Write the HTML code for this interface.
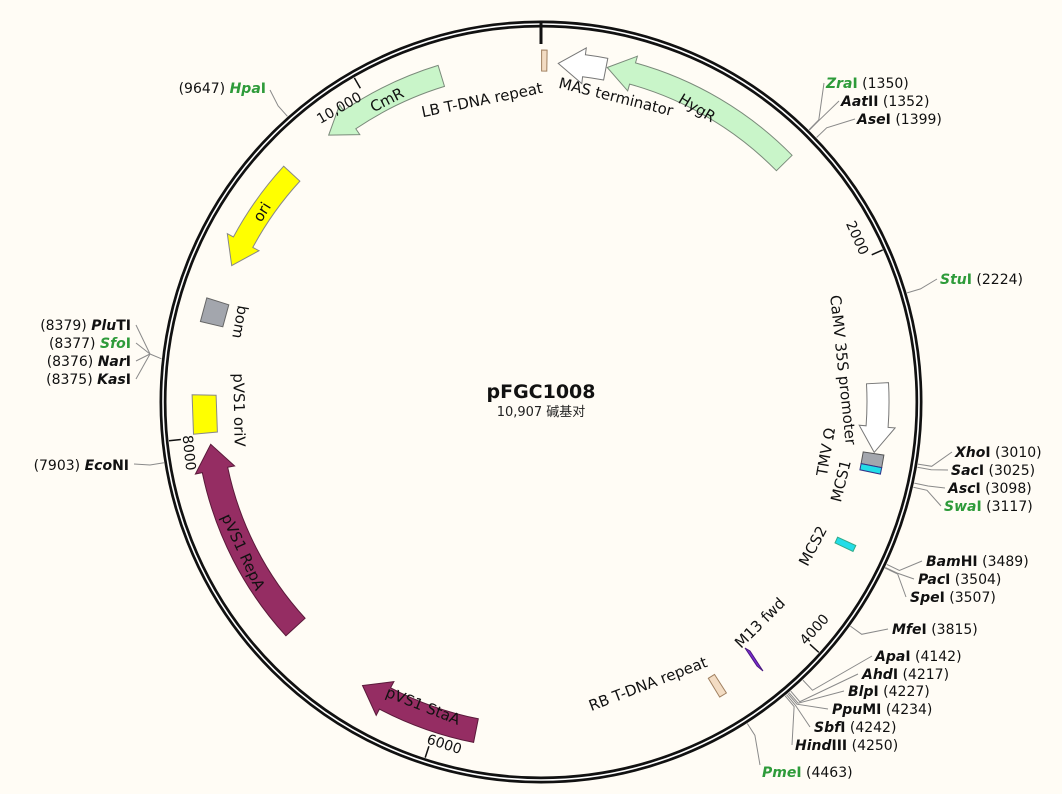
<!DOCTYPE html>
<html><head><meta charset="utf-8"><style>
html,body{margin:0;padding:0;background:#fffcf5;}
svg{display:block;font-family:"DejaVu Sans","Liberation Sans",sans-serif;}
.e{font-size:14px;fill:#111;}
.f{font-size:15px;fill:#111;}
</style></head><body>
<svg id="s" width="1062" height="794" viewBox="0 0 1062 794" xmlns="http://www.w3.org/2000/svg">
<rect width="1062" height="794" fill="#fffcf5"/>
<g id="lines" stroke="#8a8a8a" stroke-width="1" fill="none"></g>
<circle cx="541" cy="402" r="378" fill="none" stroke="#111" stroke-width="7"/>
<circle cx="541" cy="402" r="378" fill="none" stroke="#fff" stroke-width="1.6"/>
<line x1="541" y1="22" x2="541" y2="44" stroke="#111" stroke-width="3"/>
<g id="feat"></g>
<g id="ticks"></g>
<text x="541" y="398" text-anchor="middle" font-size="19" font-weight="bold" fill="#111">pFGC1008</text>
<text x="541" y="416" text-anchor="middle" font-size="13" fill="#222" style='font-family:"DejaVu Sans","Noto Sans CJK SC",sans-serif'>10,907 碱基对</text>

<text class="f" transform="translate(697,108) rotate(31)" text-anchor="middle" dominant-baseline="central">HygR</text>
<text class="f" transform="translate(616,97) rotate(14)" text-anchor="middle" dominant-baseline="central">MAS terminator</text>
<text class="f" transform="translate(482,100) rotate(-11.5)" text-anchor="middle" dominant-baseline="central">LB T-DNA repeat</text>
<text class="f" transform="translate(387,100) rotate(-27)" text-anchor="middle" dominant-baseline="central">CmR</text>
<text class="f" transform="translate(262,212) rotate(-58)" text-anchor="middle" dominant-baseline="central">ori</text>
<text class="f" transform="translate(240,322) rotate(100)" text-anchor="middle" dominant-baseline="central">bom</text>
<text class="f" transform="translate(239,410) rotate(89)" text-anchor="middle" dominant-baseline="central">pVS1 oriV</text>
<text class="f" transform="translate(243,552) rotate(65)" text-anchor="middle" dominant-baseline="central" fill="#fff">pVS1 RepA</text>
<text class="f" transform="translate(423,706) rotate(21.5)" text-anchor="middle" dominant-baseline="central" fill="#fff">pVS1 StaA</text>
<text class="f" transform="translate(843,370) rotate(84)" text-anchor="middle" dominant-baseline="central">CaMV 35S promoter</text>
<text class="f" transform="translate(826,452) rotate(-80)" text-anchor="middle" dominant-baseline="central">TMV Ω</text>
<text class="f" transform="translate(841,481) rotate(-76)" text-anchor="middle" dominant-baseline="central">MCS1</text>
<text class="f" transform="translate(813,546) rotate(-62)" text-anchor="middle" dominant-baseline="central">MCS2</text>
<text class="f" transform="translate(760,623) rotate(-45)" text-anchor="middle" dominant-baseline="central">M13 fwd</text>
<text class="f" transform="translate(648,684) rotate(-21)" text-anchor="middle" dominant-baseline="central">RB T-DNA repeat</text>

<g class="e" xml:space="preserve">
<text x="826" y="88"><tspan font-weight="bold" font-style="italic" fill="#2e9b3a">Zra</tspan><tspan font-weight="bold" fill="#2e9b3a">I</tspan>  (1350)</text>
<text x="841" y="106"><tspan font-weight="bold" font-style="italic">Aat</tspan><tspan font-weight="bold">II</tspan>  (1352)</text>
<text x="857" y="124"><tspan font-weight="bold" font-style="italic">Ase</tspan><tspan font-weight="bold">I</tspan>  (1399)</text>
<text x="940" y="284"><tspan font-weight="bold" font-style="italic" fill="#2e9b3a">Stu</tspan><tspan font-weight="bold" fill="#2e9b3a">I</tspan>  (2224)</text>
<text x="955" y="457"><tspan font-weight="bold" font-style="italic">Xho</tspan><tspan font-weight="bold">I</tspan>  (3010)</text>
<text x="951" y="475"><tspan font-weight="bold" font-style="italic">Sac</tspan><tspan font-weight="bold">I</tspan>  (3025)</text>
<text x="948" y="493"><tspan font-weight="bold" font-style="italic">Asc</tspan><tspan font-weight="bold">I</tspan>  (3098)</text>
<text x="944" y="511"><tspan font-weight="bold" font-style="italic" fill="#2e9b3a">Swa</tspan><tspan font-weight="bold" fill="#2e9b3a">I</tspan>  (3117)</text>
<text x="926" y="566"><tspan font-weight="bold" font-style="italic">Bam</tspan><tspan font-weight="bold">HI</tspan>  (3489)</text>
<text x="918" y="584"><tspan font-weight="bold" font-style="italic">Pac</tspan><tspan font-weight="bold">I</tspan>  (3504)</text>
<text x="910" y="602"><tspan font-weight="bold" font-style="italic">Spe</tspan><tspan font-weight="bold">I</tspan>  (3507)</text>
<text x="892" y="634"><tspan font-weight="bold" font-style="italic">Mfe</tspan><tspan font-weight="bold">I</tspan>  (3815)</text>
<text x="875" y="661"><tspan font-weight="bold" font-style="italic">Apa</tspan><tspan font-weight="bold">I</tspan>  (4142)</text>
<text x="862" y="679"><tspan font-weight="bold" font-style="italic">Ahd</tspan><tspan font-weight="bold">I</tspan>  (4217)</text>
<text x="848" y="696"><tspan font-weight="bold" font-style="italic">Blp</tspan><tspan font-weight="bold">I</tspan>  (4227)</text>
<text x="832" y="714"><tspan font-weight="bold" font-style="italic">Ppu</tspan><tspan font-weight="bold">MI</tspan>  (4234)</text>
<text x="814" y="732"><tspan font-weight="bold" font-style="italic">Sbf</tspan><tspan font-weight="bold">I</tspan>  (4242)</text>
<text x="795" y="750"><tspan font-weight="bold" font-style="italic">Hind</tspan><tspan font-weight="bold">III</tspan>  (4250)</text>
<text x="762" y="777"><tspan font-weight="bold" font-style="italic" fill="#2e9b3a">Pme</tspan><tspan font-weight="bold" fill="#2e9b3a">I</tspan>  (4463)</text>
<text x="266" y="93" text-anchor="end">(9647)  <tspan font-weight="bold" font-style="italic" fill="#2e9b3a">Hpa</tspan><tspan font-weight="bold" fill="#2e9b3a">I</tspan></text>
<text x="131" y="330" text-anchor="end">(8379)  <tspan font-weight="bold" font-style="italic">Plu</tspan><tspan font-weight="bold">TI</tspan></text>
<text x="131" y="348" text-anchor="end">(8377)  <tspan font-weight="bold" font-style="italic" fill="#2e9b3a">Sfo</tspan><tspan font-weight="bold" fill="#2e9b3a">I</tspan></text>
<text x="131" y="366" text-anchor="end">(8376)  <tspan font-weight="bold" font-style="italic">Nar</tspan><tspan font-weight="bold">I</tspan></text>
<text x="131" y="384" text-anchor="end">(8375)  <tspan font-weight="bold" font-style="italic">Kas</tspan><tspan font-weight="bold">I</tspan></text>
<text x="129" y="470" text-anchor="end">(7903)  <tspan font-weight="bold" font-style="italic">Eco</tspan><tspan font-weight="bold">NI</tspan></text>
</g>
</svg>
<script>
(function(){
var CX=541,CY=402,R=378,L=10907,NS="http://www.w3.org/2000/svg";
function P(a,r){var t=a*Math.PI/180;return [CX+r*Math.sin(t),CY-r*Math.cos(t)];}
function f(p){return p[0].toFixed(1)+","+p[1].toFixed(1);}
function arc(a1,a2,r){var lg=Math.abs(a2-a1)>180?1:0,sw=a2>a1?1:0;return "A"+r+","+r+" 0 "+lg+","+sw+" "+f(P(a2,r));}
function add(g,tag,at){var e=document.createElementNS(NS,tag);for(var k in at)e.setAttribute(k,at[k]);document.getElementById(g).appendChild(e);return e;}
function arrow(a1,a2,rm,w,head,fill,stroke){
  var ro=rm+w/2,ri=rm-w/2,hw=w/2+7,hd=26/rm*180/Math.PI,d;
  if(head=="end"){var b=a2-hd;
    d="M"+f(P(a1,ro))+arc(a1,b,ro)+"L"+f(P(b,rm+hw))+"L"+f(P(a2,rm))+"L"+f(P(b,rm-hw))+"L"+f(P(b,ri))+arc(b,a1,ri)+"Z";}
  else if(head=="start"){var b=a1+hd;
    d="M"+f(P(a1,rm))+"L"+f(P(b,rm+hw))+"L"+f(P(b,ro))+arc(b,a2,ro)+"L"+f(P(a2,ri))+arc(a2,b,ri)+"L"+f(P(b,rm-hw))+"Z";}
  else{d="M"+f(P(a1,ro))+arc(a1,a2,ro)+"L"+f(P(a2,ri))+arc(a2,a1,ri)+"Z";}
  add("feat","path",{d:d,fill:fill,stroke:stroke,"stroke-width":1});
}
function box(a1,a2,r1,r2,fill,stroke){
  var d="M"+f(P(a1,r2))+"L"+f(P(a2,r2))+"L"+f(P(a2,r1))+"L"+f(P(a1,r1))+"Z";
  add("feat","path",{d:d,fill:fill,stroke:stroke,"stroke-width":1});
}
var G="#c9f5c9",GS="#7a8a7a",M="#952d63";
arrow(11.2,45.5,341,22,"start",G,GS);
arrow(2.9,11.0,339,22,"start","#fff","#777");
box(0.1,1.0,331,352,"#f3dcc3","#a08060");
arrow(321.5,343,341,22,"start",G,GS);
arrow(293.8,312.5,338,22,"start","#ffff00","#888");
box(283.3,287.3,327,350,"#a3a6ad","#666");
box(264.7,271.2,325,349,"#ffff00","#888");
arrow(227.5,262.7,333,26,"end",M,"#5a1a3a");
arrow(191.2,212.2,335,24,"end",M,"#5a1a3a");
box(147.5,148.8,323,345,"#f3dcc3","#a08060");
arrow(86.8,98.6,337,22,"end","#fff","#777");
box(98.8,100.9,326,347,"#a3a6ad","#555");
box(100.9,102.0,326,347,"#22dde8","#338");
box(114.5,115.6,326,346,"#22dde8","#3a8");
add("feat","path",{d:"M745,648 L750,651 L763,671 L757,666 Z",fill:"#7a2bd0",stroke:"#4a1a80","stroke-width":1});
[2000,4000,6000,8000,10000].forEach(function(n){
  var a=n/L*360,p1=P(a,374),p2=P(a,362);
  add("ticks","line",{x1:p1[0],y1:p1[1],x2:p2[0],y2:p2[1],stroke:"#111","stroke-width":1.5});
  var flip=a>90&&a<270,rot=flip?a-180:a,pt=P(a+(flip?0.6:-0.6),flip?360:351);
  var t=add("ticks","text",{x:0,y:0,"font-size":14,fill:"#111","text-anchor":flip?"start":"end",transform:"translate("+f(pt)+") rotate("+rot.toFixed(1)+")"});
  t.textContent=n==10000?"10,000":String(n);
});
var E=[[1350,824,83],[1352,839,101],[1399,855,119],[2224,937,279],
[3010,952,452],[3025,948,470],[3098,945,488],[3117,941,506],
[3489,922,561],[3504,914,579],[3507,906,597],[3815,888,629],
[4142,872,656],[4217,858,674],[4227,844,691],[4234,828,709],[4242,810,727],[4250,792,745],[4463,760,765],
[9647,270,90],[7903,134,464]];
E.forEach(function(e){
  var a=e[0]/L*360,p1=P(a,382),p2=P(a,396);
  add("lines","polyline",{points:f(p1)+" "+f(p2)+" "+e[1]+","+e[2]});
});
var a=8377/L*360,p1=P(a,382),k="150,354";
add("lines","polyline",{points:f(p1)+" "+k});
[325,343,361,379].forEach(function(y){add("lines","polyline",{points:k+" 136,"+y});});
})();
</script>
</body></html>
